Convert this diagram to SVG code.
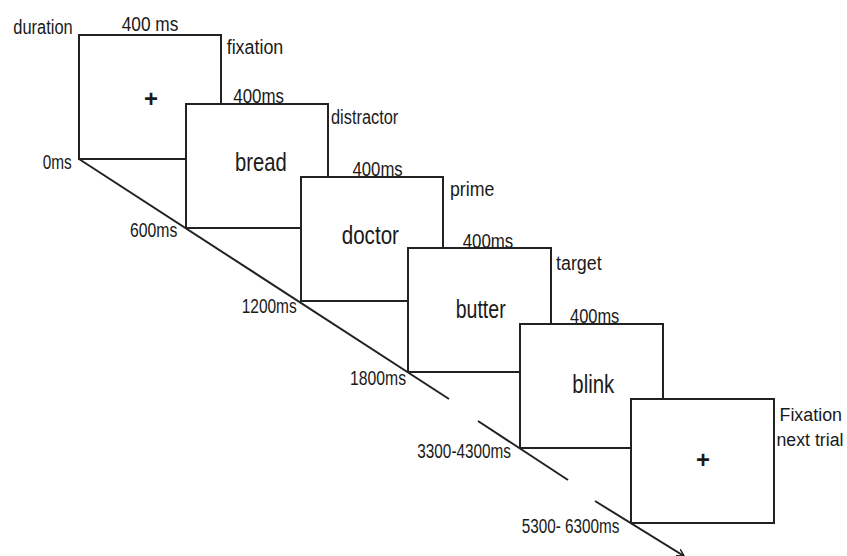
<svg xmlns="http://www.w3.org/2000/svg" width="847" height="556" viewBox="0 0 847 556">
<style>
.box{fill:#fff;stroke:#222;stroke-width:2}
.t{font-family:"Liberation Sans",Arial,sans-serif;font-size:20px;fill:#1a1a1a}
.e{font-size:18px}
.w{font-family:"Liberation Sans",Arial,sans-serif;font-size:25px;fill:#1a1a1a}
.p{font-family:"Liberation Sans",Arial,sans-serif;font-size:24px;font-weight:bold;fill:#1a1a1a;text-anchor:middle}
.ln{stroke:#222;stroke-width:2;fill:none}
</style>
<defs>
<marker id="ah" markerWidth="10" markerHeight="10" refX="7" refY="4" orient="auto" markerUnits="userSpaceOnUse">
<path d="M0,0 L7,4 L0,8" fill="none" stroke="#222" stroke-width="1.5"/>
</marker>
</defs>
<rect width="847" height="556" fill="#fff"/>
<g id="connectors">
<line class="ln" x1="79" y1="159" x2="449" y2="399"/>
<line class="ln" x1="478" y1="421" x2="568" y2="480"/>
<line class="ln" x1="595" y1="501" x2="684" y2="556" marker-end="url(#ah)"/>
</g>
<g id="fixation">
<rect class="box" x="79" y="35" width="142" height="124"/>
<text class="p" x="151" y="107">+</text>
<text class="t" x="13.3" y="34.3" textLength="59.4" lengthAdjust="spacingAndGlyphs">duration</text>
<text class="t" x="121.7" y="30.7" textLength="56.6" lengthAdjust="spacingAndGlyphs">400 ms</text>
<text class="t" x="226.7" y="54" textLength="56.6" lengthAdjust="spacingAndGlyphs">fixation</text>
<text class="t" x="42.7" y="168.5" textLength="29" lengthAdjust="spacingAndGlyphs">0ms</text>
</g>
<g id="distractor">
<rect class="box" x="186" y="104" width="142" height="124"/>
<text class="w" x="235" y="170.7" textLength="51.7" lengthAdjust="spacingAndGlyphs">bread</text>
<text class="t" x="233.3" y="102.7" textLength="50.7" lengthAdjust="spacingAndGlyphs">400ms</text>
<text class="t" x="331" y="124" textLength="67.3" lengthAdjust="spacingAndGlyphs">distractor</text>
<text class="t" x="130" y="237.3" textLength="47.3" lengthAdjust="spacingAndGlyphs">600ms</text>
</g>
<g id="prime">
<rect class="box" x="301" y="177" width="142" height="124"/>
<text class="w" x="341.7" y="244.3" textLength="57.3" lengthAdjust="spacingAndGlyphs">doctor</text>
<text class="t" x="352.5" y="176" textLength="50.2" lengthAdjust="spacingAndGlyphs">400ms</text>
<text class="t" x="450" y="195.7" textLength="44.3" lengthAdjust="spacingAndGlyphs">prime</text>
<text class="t" x="241.7" y="313.3" textLength="55" lengthAdjust="spacingAndGlyphs">1200ms</text>
</g>
<g id="target">
<rect class="box" x="408" y="248" width="143" height="124"/>
<text class="w" x="455.7" y="318.3" textLength="50" lengthAdjust="spacingAndGlyphs">butter</text>
<text class="t" x="462.7" y="247.7" textLength="50.6" lengthAdjust="spacingAndGlyphs">400ms</text>
<text class="t" x="556" y="270" textLength="45.7" lengthAdjust="spacingAndGlyphs">target</text>
<text class="t" x="350" y="385" textLength="56" lengthAdjust="spacingAndGlyphs">1800ms</text>
</g>
<g id="blink">
<rect class="box" x="520" y="324" width="143" height="124"/>
<text class="w" x="572.3" y="393.3" textLength="42" lengthAdjust="spacingAndGlyphs">blink</text>
<text class="t" x="570" y="322.7" textLength="49.3" lengthAdjust="spacingAndGlyphs">400ms</text>
<text class="t" x="417.3" y="458.3" textLength="93.7" lengthAdjust="spacingAndGlyphs">3300-4300ms</text>
</g>
<g id="next-fixation">
<rect class="box" x="631" y="399" width="143" height="124"/>
<text class="p" x="703" y="467.6">+</text>
<text class="t e" x="779.5" y="420.7" textLength="62.5" lengthAdjust="spacingAndGlyphs">Fixation</text>
<text class="t e" x="776.5" y="445.7" textLength="67" lengthAdjust="spacingAndGlyphs">next trial</text>
<text class="t" x="521.7" y="533.3" textLength="97.6" lengthAdjust="spacingAndGlyphs">5300- 6300ms</text>
</g>
</svg>
